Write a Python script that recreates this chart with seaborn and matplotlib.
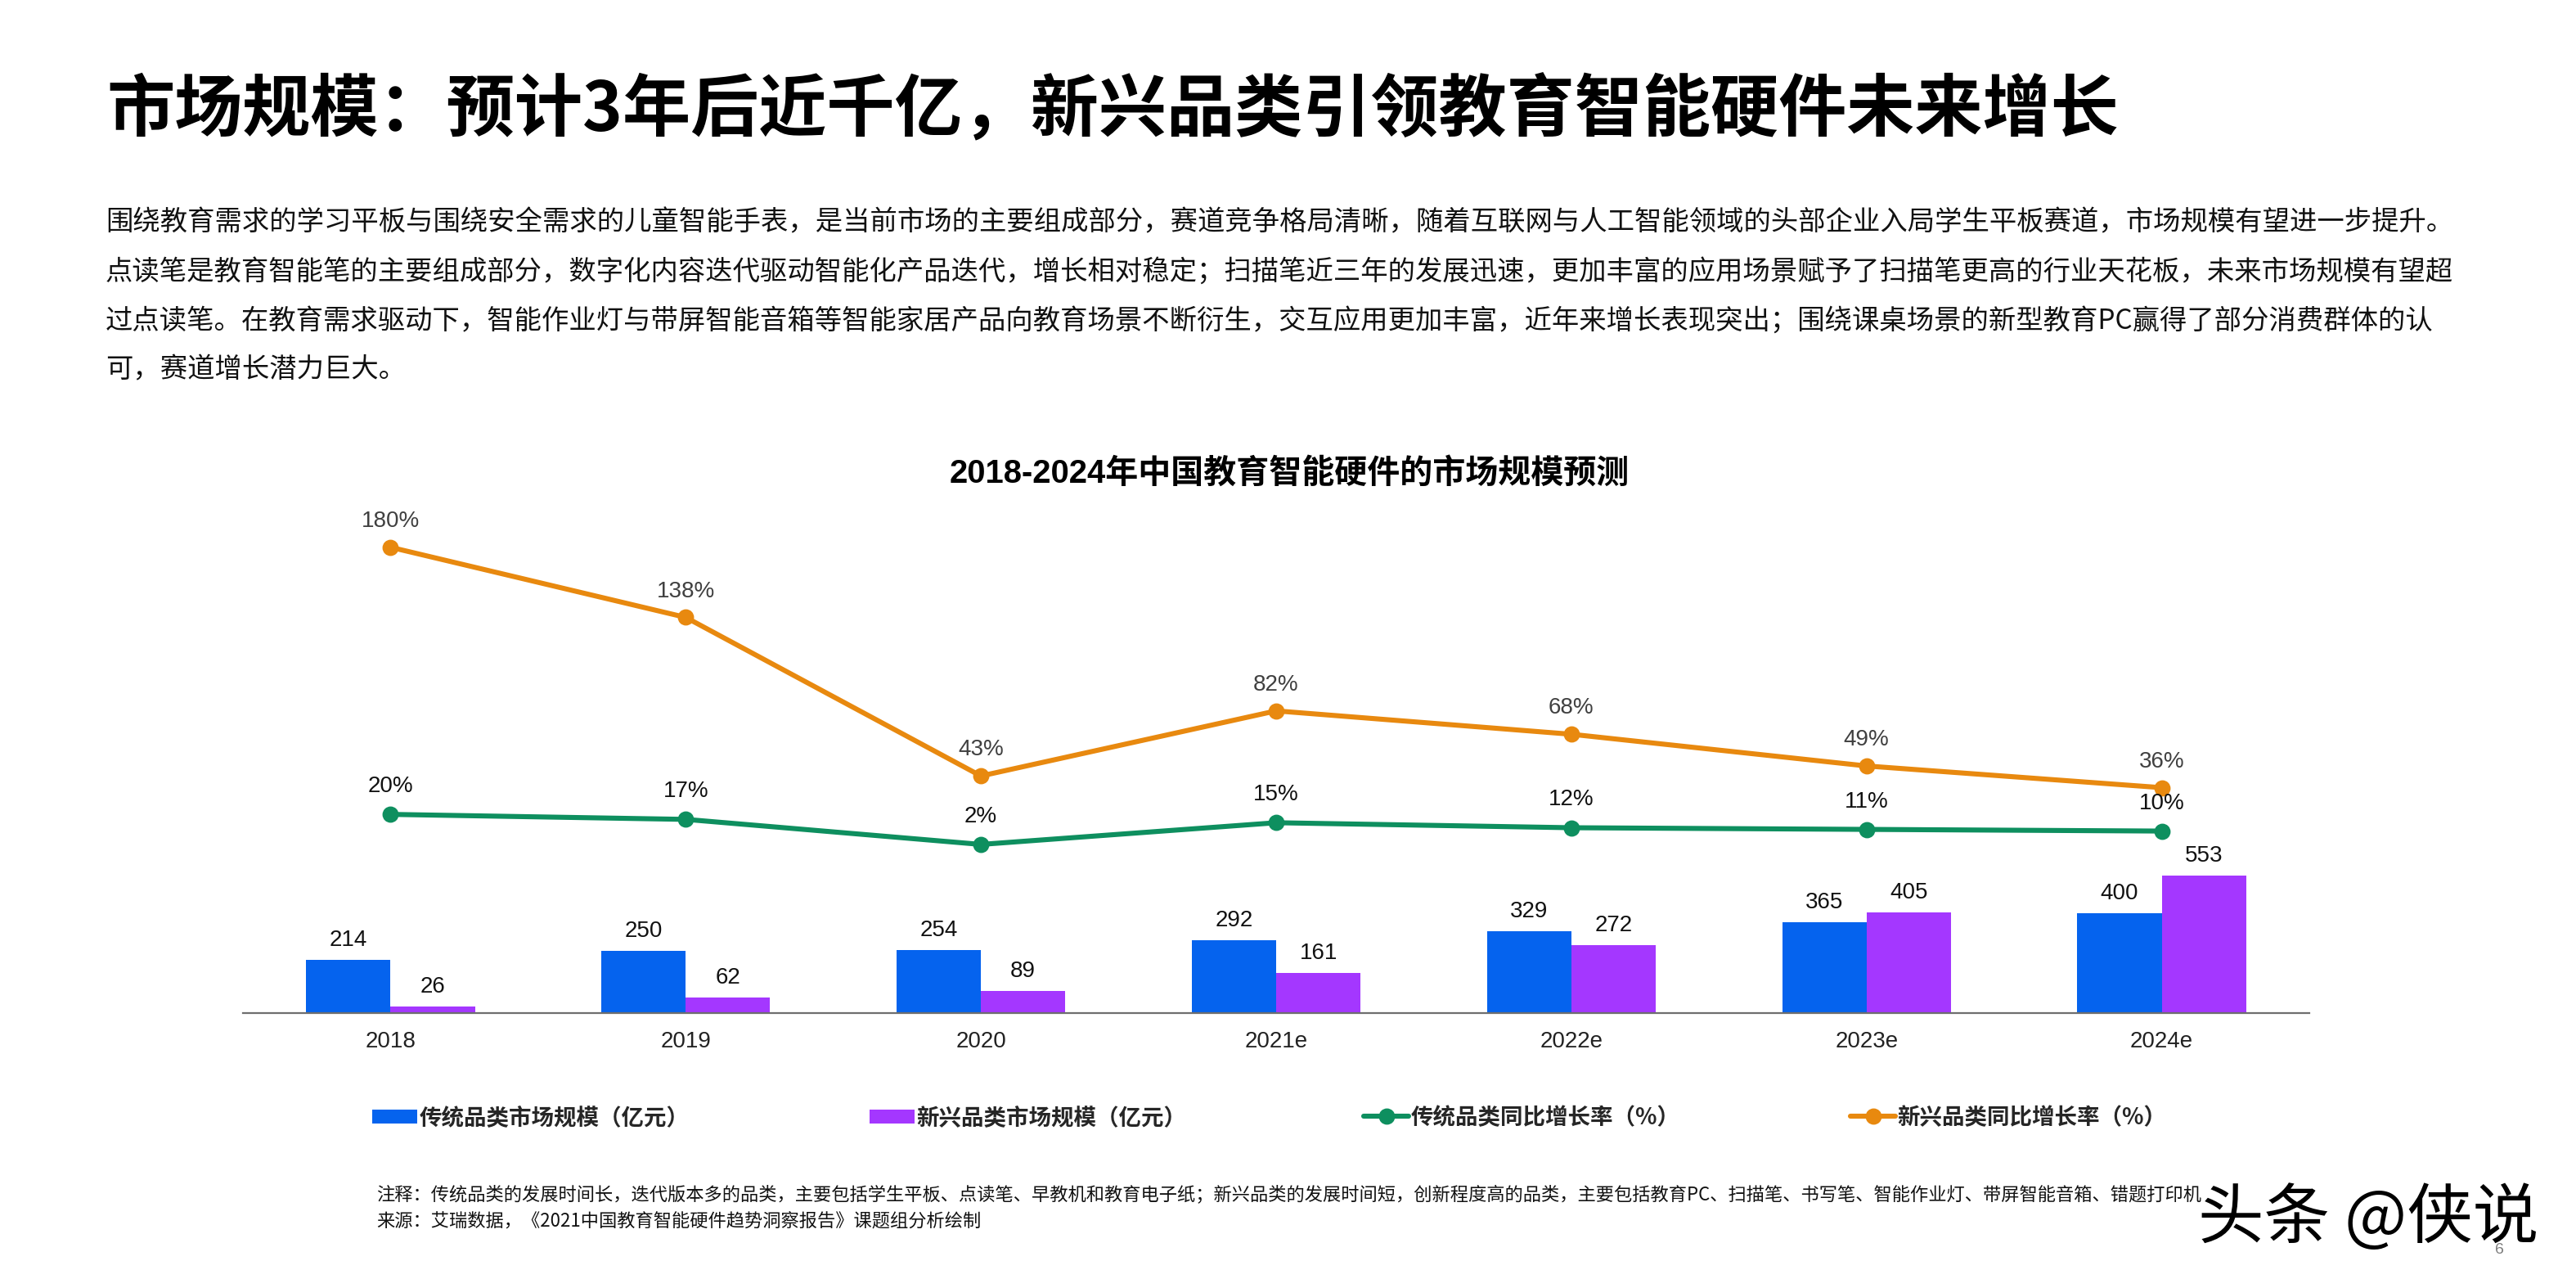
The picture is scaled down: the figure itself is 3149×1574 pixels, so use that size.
import numpy as np
import pandas as pd
import matplotlib
matplotlib.use("Agg")
import matplotlib.pyplot as plt
import seaborn as sns

W, H, DPI = 3149, 1574, 100

years = ["2018", "2019", "2020", "2021e", "2022e", "2023e", "2024e"]
trad_size = [214, 250, 254, 292, 329, 365, 400]
new_size = [26, 62, 89, 161, 272, 405, 553]
trad_rate = [20, 17, 2, 15, 12, 11, 10]
new_rate = [180, 138, 43, 82, 68, 49, 36]

name_trad = "传统品类市场规模（亿元）"
name_new = "新兴品类市场规模（亿元）"
name_trad_rate = "传统品类同比增长率（%）"
name_new_rate = "新兴品类同比增长率（%）"

title = "市场规模：预计3年后近千亿，新兴品类引领教育智能硬件未来增长"
body = [
    "围绕教育需求的学习平板与围绕安全需求的儿童智能手表，是当前市场的主要组成部分，赛道竞争格局清晰，随着互联网与人工智能领域的头部企业入局学生平板赛道，市场规模有望进一步提升。",
    "点读笔是教育智能笔的主要组成部分，数字化内容迭代驱动智能化产品迭代，增长相对稳定；扫描笔近三年的发展迅速，更加丰富的应用场景赋予了扫描笔更高的行业天花板，未来市场规模有望超",
    "过点读笔。在教育需求驱动下，智能作业灯与带屏智能音箱等智能家居产品向教育场景不断衍生，交互应用更加丰富，近年来增长表现突出；围绕课桌场景的新型教育PC赢得了部分消费群体的认",
    "可，赛道增长潜力巨大。",
]
chart_title = "2018-2024年中国教育智能硬件的市场规模预测"
notes = [
    "注释：传统品类的发展时间长，迭代版本多的品类，主要包括学生平板、点读笔、早教机和教育电子纸；新兴品类的发展时间短，创新程度高的品类，主要包括教育PC、扫描笔、书写笔、智能作业灯、带屏智能音箱、错题打印机",
    "来源：艾瑞数据，《2021中国教育智能硬件趋势洞察报告》课题组分析绘制",
]
watermark = "头条 @侠说"
page_no = "6"

BLUE, PURPLE, GREEN, ORANGE = "#0563EE", "#A437FF", "#0E8F5F", "#E8890F"

sns.set_theme(style="white")
CJK = ["Noto Sans CJK SC", "DejaVu Sans"]
MIX = ["Liberation Sans", "Noto Sans CJK SC", "DejaVu Sans"]
plt.rcParams["font.family"] = CJK


def fx(px):
    return px / W


def fy(py):
    return 1 - py / H


fig = plt.figure(figsize=(W / DPI, H / DPI), dpi=DPI, facecolor="white")

# Plot area: pixel box of the chart
AX_L, AX_R, AX_T, AX_B = 297, 2823, 600, 1238
ax = fig.add_axes([fx(AX_L), fy(AX_B), fx(AX_R - AX_L), (AX_B - AX_T) / H])

bars = pd.DataFrame({
    "year": years * 2,
    "value": trad_size + new_size,
    "series": [name_trad] * len(years) + [name_new] * len(years),
})
sns.barplot(data=bars, x="year", y="value", hue="series", order=years,
            hue_order=[name_trad, name_new], palette=[BLUE, PURPLE],
            width=0.572, gap=0, saturation=1, errorbar=None, legend=False,
            linewidth=0, ax=ax)
ax.set_xlim(-0.5, len(years) - 0.5)
ax.set_ylim(0, (AX_B - AX_T) / 0.304)

for cont, vals in zip(ax.containers, [trad_size, new_size]):
    ax.bar_label(cont, labels=[str(v) for v in vals], padding=8, fontsize=20,
                 color="#111111", family=MIX)

ax.set_xlabel("")
ax.set_ylabel("")
ax.set_yticks([])
ax.tick_params(axis="x", length=0, pad=16, labelsize=20, colors="#222222")
for lab in ax.get_xticklabels():
    lab.set_fontfamily(MIX)
for side in ["top", "left", "right"]:
    ax.spines[side].set_visible(False)
ax.spines["bottom"].set_color("#6e6e6e")
ax.spines["bottom"].set_linewidth(1.6)

# Growth rate lines, on their own scale
ax2 = ax.twinx()
lines = pd.DataFrame({
    "year": years * 2,
    "value": trad_rate + new_rate,
    "series": [name_trad_rate] * len(years) + [name_new_rate] * len(years),
})
sns.pointplot(data=lines, x="year", y="value", hue="series", order=years,
              hue_order=[name_trad_rate, name_new_rate], palette=[GREEN, ORANGE],
              errorbar=None, markers="o", markersize=11, linewidth=4.4,
              legend=False, ax=ax2)
RATE_PX, ZERO_Y = 2.04, 1036
ax2.set_ylim((ZERO_Y - AX_B) / RATE_PX, (ZERO_Y - AX_T) / RATE_PX)
ax2.set_xlim(-0.5, len(years) - 0.5)
ax2.set_yticks([])
ax2.set_ylabel("")
ax2.set_xlabel("")
for side in ["top", "left", "right", "bottom"]:
    ax2.spines[side].set_visible(False)

for i, v in enumerate(trad_rate):
    ax2.annotate(f"{v}%", (i, v), xytext=(0, 24.5), textcoords="offset points",
                 ha="center", va="center", fontsize=20, color="#111111", family=MIX)
for i, v in enumerate(new_rate):
    ax2.annotate(f"{v}%", (i, v), xytext=(0, 23), textcoords="offset points",
                 ha="center", va="center", fontsize=20, color="#404040", family=MIX)

# Page texts
fig.text(fx(130), fy(136), title, fontsize=59.9, fontweight="bold", color="#000000",
         ha="left", va="center")
for text, y in zip(body, [272, 332, 392, 452]):
    fig.text(fx(129), fy(y), text, fontsize=24, color="#111111", ha="left", va="center")
fig.text(fx(1576), fy(578), chart_title, fontsize=28.8, fontweight="bold", color="#000000",
         ha="center", va="center", family=MIX)

# Legend: four evenly spaced entries
bar_handles = [ax.containers[0].patches[0], ax.containers[1].patches[0]]
line_handles = list(ax2.lines[:2])
handles = bar_handles + line_handles
labels = [name_trad, name_new, name_trad_rate, name_new_rate]
for h, lab, x0, hh in zip(handles, labels, [455, 1063, 1667, 2262], [0.6, 0.6, 0.7, 0.7]):
    fig.legend([h], [lab], loc="center left", bbox_to_anchor=(fx(x0), fy(1366)),
               frameon=False, prop={"size": 19.8, "weight": "bold", "family": CJK},
               borderpad=0, borderaxespad=0, handlelength=2.0, handleheight=hh,
               handletextpad=0.1)

for text, y in zip(notes, [1460, 1493]):
    fig.text(fx(460), fy(y), text, fontsize=16, color="#111111", ha="left", va="center")

fig.text(fx(2687), fy(1490), watermark, fontsize=58, color="#000000", ha="left", va="center")
fig.text(fx(3055), fy(1528), page_no, fontsize=14, color="#7f7f7f", ha="center", va="center",
         family=MIX)

fig.savefig("out.png", dpi=DPI, facecolor="white")
